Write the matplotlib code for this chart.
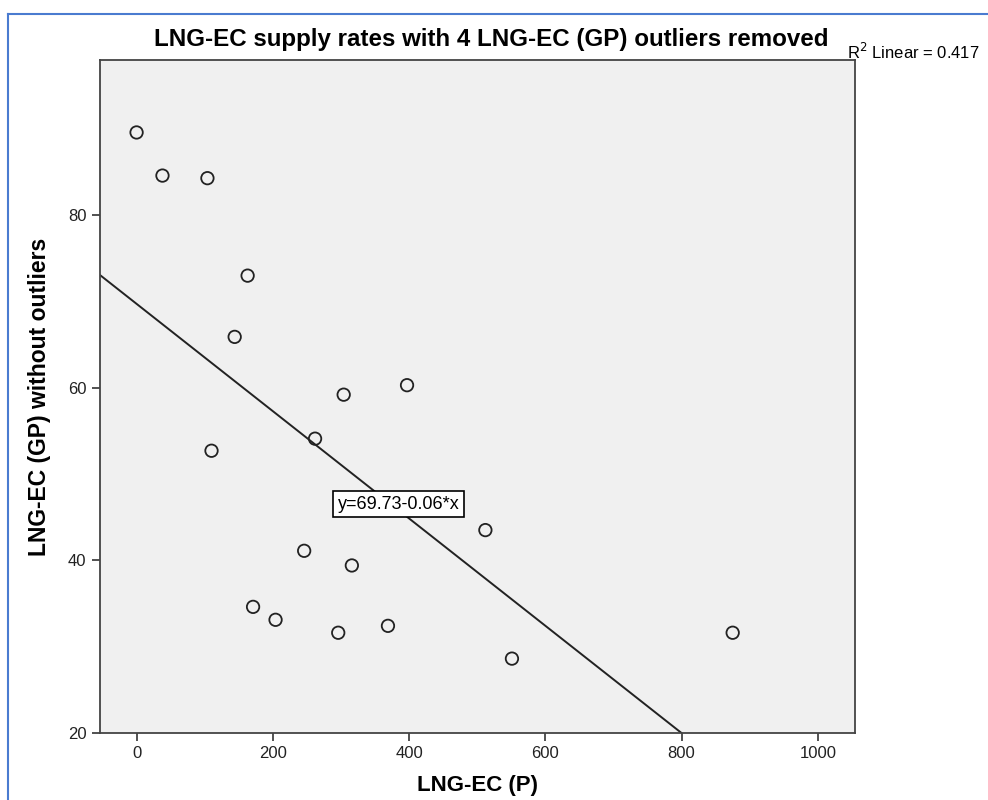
import matplotlib.pyplot as plt
from matplotlib.lines import Line2D

plt.rcParams['font.family'] = ['Liberation Sans', 'DejaVu Sans']

# LNG-EC (P) vs LNG-EC (GP) without outliers
p_vals = [0, 38, 104, 163, 144, 110, 262, 304, 397, 512, 246, 316, 171, 204, 296, 369, 551, 875]
gp_vals = [89.6, 84.6, 84.3, 73.0, 65.9, 52.7, 54.1, 59.2, 60.3, 43.5, 41.1, 39.4, 34.6, 33.1, 31.6, 32.4, 28.6, 31.6]

intercept = 69.73
slope = -0.0622
x_ticks = [0, 200, 400, 600, 800, 1000]
y_ticks = [20, 40, 60, 80]

fig = plt.figure(figsize=(9.88, 8), dpi=100)
ax = fig.add_axes([0.101, 0.084, 0.764, 0.841])
ax.set_facecolor('#f0f0f0')

ax.scatter(p_vals, gp_vals, s=80, facecolors='none', edgecolors='#222222', linewidths=1.3, zorder=3)

xl = (-54, 1054)
yl = (20, 98)
xs = [xl[0], (yl[0] - intercept) / slope]
ys = [intercept + slope * x for x in xs]
ax.plot(xs, ys, color='#222222', lw=1.4, zorder=2)

ax.set_xlim(*xl)
ax.set_ylim(*yl)
ax.set_xticks(x_ticks)
ax.set_yticks(y_ticks)
ax.tick_params(length=6, width=1.2, colors='#333333', labelsize=12, labelcolor='#222222')
for s in ax.spines.values():
    s.set_color('#444444')
    s.set_linewidth(1.3)

ax.set_xlabel('LNG-EC (P)', fontsize=16, fontweight='bold', labelpad=10)
ax.set_ylabel('LNG-EC (GP) without outliers', fontsize=16.5, fontweight='bold', labelpad=12)

fig.text(0.497, 0.951, 'LNG-EC supply rates with 4 LNG-EC (GP) outliers removed',
         ha='center', va='center', fontsize=17.4, fontweight='bold')
fig.text(0.857, 0.935, r'R$^2$ Linear = 0.417', ha='left', va='center', fontsize=12)

ax.text(385, 46.5, 'y=69.73-0.06*x', fontsize=13, ha='center', va='center',
        bbox=dict(boxstyle='square,pad=0.25', fc='white', ec='black', lw=1.2), zorder=4)

blue = '#4a7bd0'
fig.add_artist(Line2D([0.008, 0.008], [0.0, 0.982], color=blue, lw=1.5, transform=fig.transFigure))
fig.add_artist(Line2D([0.008, 1.0], [0.982, 0.982], color=blue, lw=1.5, transform=fig.transFigure))

fig.savefig('out.png', dpi=100)
